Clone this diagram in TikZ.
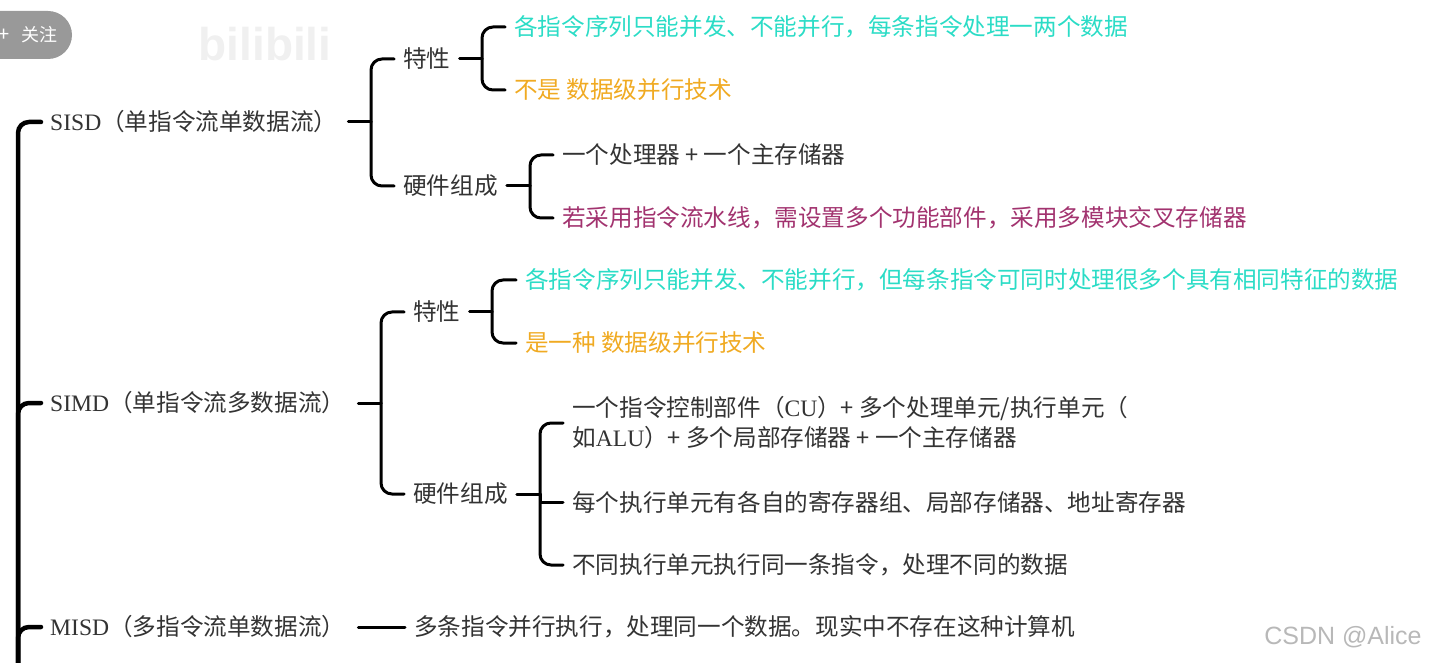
\documentclass[tikz,border=0pt]{standalone}
\usepackage{fontspec}
\setmainfont{Noto Sans CJK SC}
\newfontfamily\lat{Liberation Serif}
\newfontfamily\markfont{Liberation Sans}
\usepackage{tikz}
\usetikzlibrary{positioning}
\definecolor{inktext}{HTML}{333333}
\definecolor{tealtext}{HTML}{2BDCC6}
\definecolor{ambertext}{HTML}{F0AA22}
\definecolor{plumtext}{HTML}{A2336F}

\begin{document}
\begin{tikzpicture}[
    x=1pt, y=-1pt,
    topic/.style={anchor=west, inner xsep=9pt, inner ysep=0pt, text=inktext, align=left, font=\fontsize{23.6}{30}\selectfont},
    trunk/.style={draw=black, line width=4.5pt, rounded corners=11pt, line cap=round},
    branch/.style={draw=black, line width=3pt, rounded corners=11pt, line cap=round},
    pill/.style={fill=black!40}
]
\useasboundingbox (0,0) rectangle (1436,663);

% Overlays of the video
\fill[pill] (0,11) -- (48,11) arc[start angle=90, end angle=-90, radius=24pt] -- (0,59) -- cycle;
\node[inner sep=0pt, text=white, font=\fontsize{18}{20}\selectfont] (follow) at (39,35) {关注};
\node[inner sep=0pt, text=white, font=\fontsize{20}{20}\selectfont] (plus) at (4,35) {+};
\node[inner sep=0pt, text=black!6, font=\markfont\bfseries\fontsize{46}{50}\selectfont] (logo) at (265,44) {bilibili};
\node[inner sep=0pt, text=black!28, font=\markfont\fontsize{25}{30}\selectfont] (csdn) at (1343,637) {CSDN @Alice};

% SISD
\node[topic, text width=289pt] (sisd) at (41,122) {{\lat SISD}（单指令流单数据流）};
\node[topic] (sisdtrait) at (394,59) {特性};
\node[topic] (sisdhw) at (394,186) {硬件组成};
\node[topic, text=tealtext] (sisdconc) at (505,27) {各指令序列只能并发、不能并行，每条指令处理一两个数据};
\node[topic, text=ambertext] (sisdnot) at (505,90) {不是 数据级并行技术};
\node[topic] (sisdcpu) at (553,155) {一个处理器 + 一个主存储器};
\node[topic, text=plumtext] (sisdpipe) at (553,218) {若采用指令流水线，需设置多个功能部件，采用多模块交叉存储器};

% SIMD
\node[topic, text width=299pt] (simd) at (41,403) {{\lat SIMD}（单指令流多数据流）};
\node[topic] (simdtrait) at (404,312) {特性};
\node[topic] (simdhw) at (404,494) {硬件组成};
\node[topic, text=tealtext] (simdconc) at (516,280) {各指令序列只能并发、不能并行，但每条指令可同时处理很多个具有相同特征的数据};
\node[topic, text=ambertext] (simdyes) at (516,343) {是一种 数据级并行技术};
\node[topic] (simdcu) at (563,423) {一个指令控制部件（{\lat CU}）+ 多个处理单元/执行单元（\\如{\lat ALU}）+ 多个局部存储器 + 一个主存储器};
\node[topic] (simdreg) at (563,502) {每个执行单元有各自的寄存器组、局部存储器、地址寄存器};
\node[topic] (simddata) at (563,565) {不同执行单元执行同一条指令，处理不同的数据};

% MISD
\node[topic, text width=299pt] (misd) at (41,627) {{\lat MISD}（多指令流单数据流）};
\node[topic] (misdnote) at (405,627) {多条指令并行执行，处理同一个数据。现实中不存在这种计算机};

% Forks
\coordinate (trunkend) at (18,668);
\coordinate (sisdfork) at (371,122);
\coordinate (sisdtraitfork) at (482,59);
\coordinate (sisdhwfork) at (530,186);
\coordinate (simdfork) at (381,403);
\coordinate (simdtraitfork) at (492,312);
\coordinate (simdhwfork) at (540,494);

% Trunk
\draw[trunk] (sisd.west) -| (trunkend);
\draw[trunk] (simd.west) -| (trunkend);
\draw[trunk] (misd.west) -| (trunkend);

% Branches
\draw[branch] (sisd.east) -- (sisdfork);
\draw[branch] (sisdfork) |- (sisdtrait.west);
\draw[branch] (sisdfork) |- (sisdhw.west);
\draw[branch] (sisdtrait.east) -- (sisdtraitfork);
\draw[branch] (sisdtraitfork) |- (sisdconc.west);
\draw[branch] (sisdtraitfork) |- (sisdnot.west);
\draw[branch] (sisdhw.east) -- (sisdhwfork);
\draw[branch] (sisdhwfork) |- (sisdcpu.west);
\draw[branch] (sisdhwfork) |- (sisdpipe.west);

\draw[branch] (simd.east) -- (simdfork);
\draw[branch] (simdfork) |- (simdtrait.west);
\draw[branch] (simdfork) |- (simdhw.west);
\draw[branch] (simdtrait.east) -- (simdtraitfork);
\draw[branch] (simdtraitfork) |- (simdconc.west);
\draw[branch] (simdtraitfork) |- (simdyes.west);
\draw[branch] (simdhw.east) -- (simdhwfork);
\draw[branch] (simdhwfork) |- (simdcu.west);
\draw[branch, sharp corners] (simdhwfork) |- (simdreg.west);
\draw[branch] (simdhwfork) |- (simddata.west);

\draw[branch] (misd.east) -- (misdnote.west);

\end{tikzpicture}
\end{document}
